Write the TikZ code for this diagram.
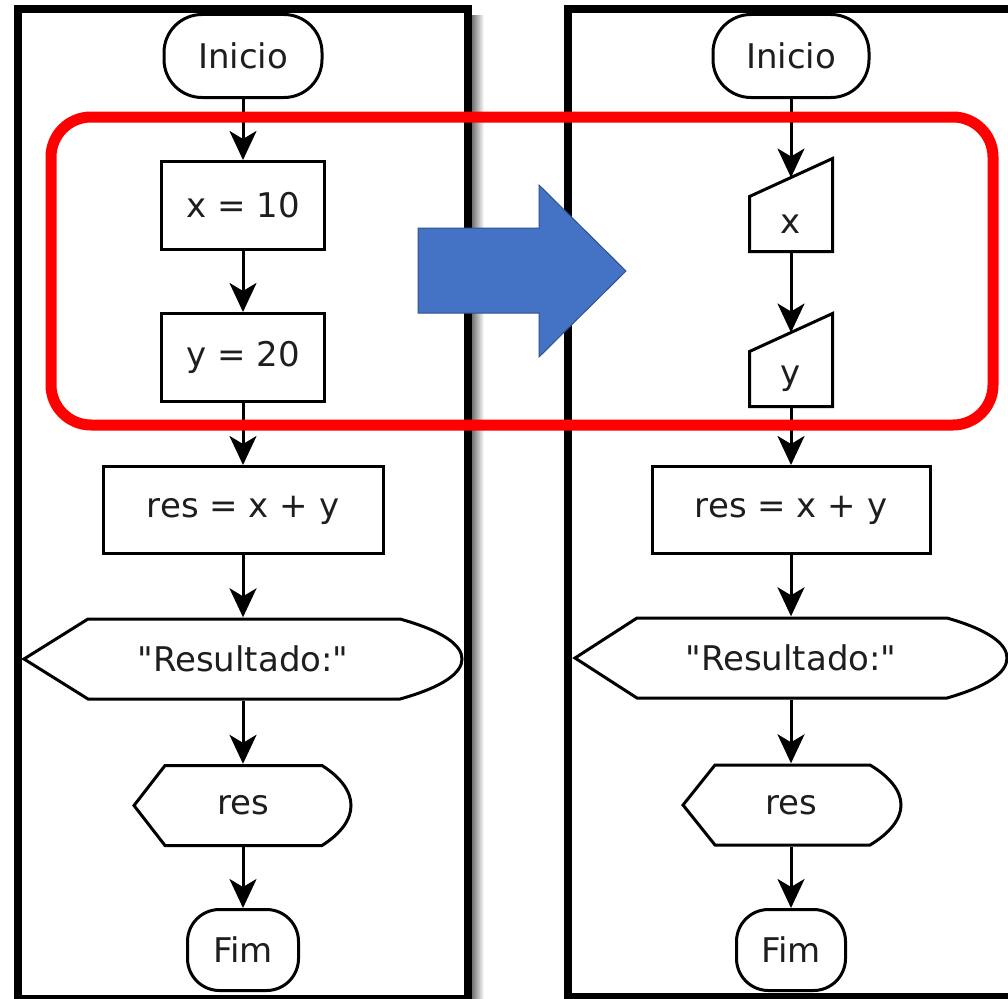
\documentclass[tikz,border=0pt]{standalone}
\usepackage{fontspec}
\newfontfamily\dvs{DejaVu Sans}
\usetikzlibrary{arrows.meta,calc}
\definecolor{bigblue}{HTML}{4472C4}
\definecolor{bigblueedge}{HTML}{2F528F}
\definecolor{txtgray}{HTML}{1E1E1E}
\begin{document}
\begin{tikzpicture}[x=1pt,y=-1pt,
  lbl/.style={font=\dvs\fontsize{34}{40}\selectfont, text=txtgray, inner sep=0pt},
  procbox/.style={lbl, draw=black, line width=3pt, fill=white, rectangle},
  termbox/.style={lbl, draw=black, line width=3pt, fill=white, rectangle, rounded corners=38pt},
  shapeline/.style={draw=black, line width=3pt, fill=white, line join=miter},
  flowarr/.style={line width=3pt, -{Stealth[length=29pt,width=27pt,inset=8pt]}},
  panel/.style={draw=black, line width=8pt, line join=miter},
]
\useasboundingbox (0,0) rectangle (1008,998);
\fill[white] (0,0) rectangle (1008,998);

% shadow of left panel
\shade[left color=black!55, right color=white] (472,16) rectangle (484,998);

% panel backgrounds
\fill[white] (18,9) rectangle (468,999);
\fill[white] (568,9) rectangle (1020,997);

% ---------------- left flowchart ----------------
\node[termbox, minimum width=158pt, minimum height=83pt] (iL) at (243,56) {Inicio};
\node[procbox, minimum width=163pt, minimum height=88pt] (xL) at (243,205.5) {x = 10};
\node[procbox, minimum width=163pt, minimum height=88pt] (yL) at (243,357.5) {y = 20};
\node[procbox, minimum width=280pt, minimum height=87pt] (sL) at (243,510) {res = x + y};
\node[lbl, minimum height=80pt] (rL) at (243,659) {"Resultado:"};
\node[lbl, minimum height=80pt] (oL) at (243,805.5) {res};
\node[termbox, rounded corners=32pt, minimum width=111pt, minimum height=81pt] (fL) at (243,950) {Fim};

% display shapes (outline drawn behind text)
\path[shapeline] ($(rL)+(-219,0)$) -- ($(rL)+(-155,-40)$) -- ($(rL)+(157,-40)$)
   .. controls ($(rL)+(200,-28)$) and ($(rL)+(219,-14)$) .. ($(rL)+(219,0)$)
   .. controls ($(rL)+(219,14)$) and ($(rL)+(200,28)$) .. ($(rL)+(157,40)$)
   -- ($(rL)+(-155,40)$) -- cycle;
\node[lbl] at (rL) {"Resultado:"};
\path[shapeline] ($(oL)+(-109,0)$) -- ($(oL)+(-78,-40)$) -- ($(oL)+(79,-40)$)
   .. controls ($(oL)+(98,-28)$) and ($(oL)+(108,-14)$) .. ($(oL)+(108,0)$)
   .. controls ($(oL)+(108,14)$) and ($(oL)+(98,28)$) .. ($(oL)+(79,40)$)
   -- ($(oL)+(-78,40)$) -- cycle;
\node[lbl] at (oL) {res};

\draw[flowarr] (iL.south) -- (xL.north);
\draw[flowarr] (xL.south) -- (yL.north);
\draw[flowarr] (yL.south) -- (sL.north);
\draw[flowarr] (sL.south) -- ($(rL.north)+(0,-1.5)$);
\draw[flowarr] ($(rL.south)+(0,1.5)$) -- ($(oL.north)+(0,-1.5)$);
\draw[flowarr] ($(oL.south)+(0,1.5)$) -- (fL.north);

% ---------------- right flowchart ----------------
\node[termbox, minimum width=156pt, minimum height=83pt] (iR) at (791,56) {Inicio};
\node[lbl] (xR) at (791,224) {x};
\node[lbl] (yR) at (791,379) {y};
\node[procbox, minimum width=278pt, minimum height=87pt] (sR) at (791,510) {res = x + y};
\node[lbl, minimum height=80pt] (rR) at (791,658) {"Resultado:"};
\node[lbl, minimum height=80pt] (oR) at (791,805) {res};
\node[termbox, rounded corners=32pt, minimum width=109pt, minimum height=81pt] (fR) at (791,950) {Fim};

\path[shapeline] ($(xR)+(-41.5,27.5)$) -- ($(xR)+(-41.5,-27.5)$) -- ($(xR)+(41.5,-65.5)$) -- ($(xR)+(41.5,27.5)$) -- cycle;
\node[lbl] at (xR) {x};
\path[shapeline] ($(yR)+(-41.5,27.5)$) -- ($(yR)+(-41.5,-27.5)$) -- ($(yR)+(41.5,-65.5)$) -- ($(yR)+(41.5,27.5)$) -- cycle;
\node[lbl] at (yR) {y};
\coordinate (xRtop) at ($(xR)+(0,-46.5)$);
\coordinate (xRbot) at ($(xR)+(0,29)$);
\coordinate (yRtop) at ($(yR)+(0,-46.5)$);
\coordinate (yRbot) at ($(yR)+(0,29)$);

\path[shapeline] ($(rR)+(-216,0)$) -- ($(rR)+(-154,-40)$) -- ($(rR)+(156,-40)$)
   .. controls ($(rR)+(198,-28)$) and ($(rR)+(216,-14)$) .. ($(rR)+(216,0)$)
   .. controls ($(rR)+(216,14)$) and ($(rR)+(198,28)$) .. ($(rR)+(156,40)$)
   -- ($(rR)+(-154,40)$) -- cycle;
\node[lbl] at (rR) {"Resultado:"};
\path[shapeline] ($(oR)+(-108,0)$) -- ($(oR)+(-76,-40)$) -- ($(oR)+(79,-40)$)
   .. controls ($(oR)+(99,-28)$) and ($(oR)+(110,-14)$) .. ($(oR)+(110,0)$)
   .. controls ($(oR)+(110,14)$) and ($(oR)+(99,28)$) .. ($(oR)+(79,40)$)
   -- ($(oR)+(-76,40)$) -- cycle;
\node[lbl] at (oR) {res};

\draw[flowarr] (iR.south) -- (xRtop);
\draw[flowarr] (xRbot) -- (yRtop);
\draw[flowarr] (yRbot) -- (sR.north);
\draw[flowarr] (sR.south) -- ($(rR.north)+(0,-1.5)$);
\draw[flowarr] ($(rR.south)+(0,1.5)$) -- ($(oR.north)+(0,-1.5)$);
\draw[flowarr] ($(oR.south)+(0,1.5)$) -- (fR.north);

% panel borders
\draw[panel] (18,9) rectangle (468,999);
\draw[panel] (568,9) rectangle (1020,997);

% red highlight
\draw[red, line width=11pt, rounded corners=40pt] (51,117) rectangle (993,425);

% blue arrow
\filldraw[fill=bigblue, draw=bigblueedge, line width=1pt]
  (418,228) -- (539,228) -- (539,185) -- (626,271) -- (539,357) -- (539,313) -- (418,313) -- cycle;
\end{tikzpicture}
\end{document}
